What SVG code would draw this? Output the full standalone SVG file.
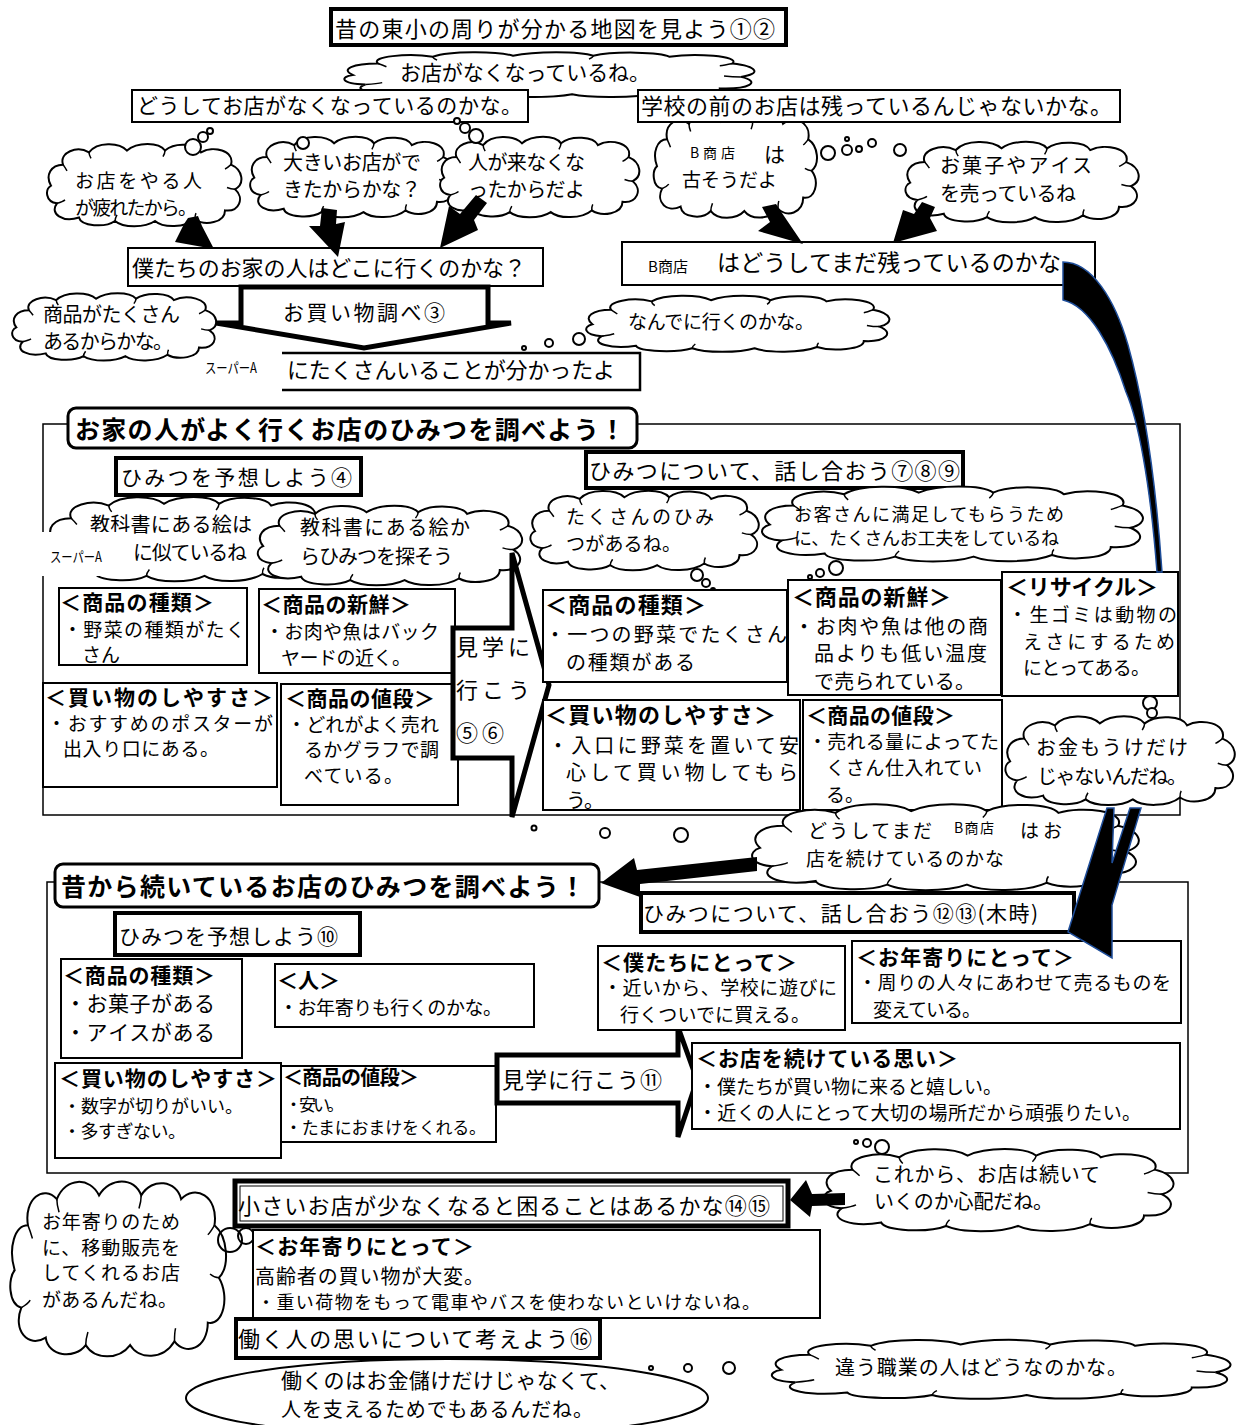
<svg xmlns="http://www.w3.org/2000/svg" xmlns:xlink="http://www.w3.org/1999/xlink" width="1241" height="1425" viewBox="0 0 1241 1425">
<style>
.t{font-family:"Noto Sans CJK JP","Noto Sans CJK SC",sans-serif;fill:#000}
.b{font-weight:bold}
.bx{fill:#fff;stroke:#000;stroke-width:2}
.bx4{fill:#fff;stroke:#000;stroke-width:4}
.fr{fill:none;stroke:#000;stroke-width:1.5}
.cp{fill:#fff;stroke:#000;stroke-width:2;vector-effect:non-scaling-stroke}
.ci{fill:none;stroke:#000;stroke-width:1.5;vector-effect:non-scaling-stroke}
.bub{fill:#fff;stroke:#000;stroke-width:2}
.ar{fill:#000}
.cv{fill:#000;stroke:#1f4e9a;stroke-width:1.5}
.blk{fill:#fff;stroke:#000;stroke-width:5;stroke-linejoin:miter}
</style>
<defs>
<symbol id="cl" viewBox="0 0 200 100" preserveAspectRatio="none">
<path class="cp" d="M6,52 C0,40 6,28 18,28 C14,14 32,6 44,14 C52,2 74,2 82,12 C92,2 114,2 120,12 C130,2 152,4 156,14 C168,6 190,12 186,28 C198,34 200,50 190,56 C200,66 194,82 180,80 C180,94 160,98 150,90 C140,100 118,100 110,92 C100,100 78,100 70,92 C60,100 36,98 34,88 C18,94 4,84 12,72 C0,70 0,56 6,52 Z"/>
<path class="ci" d="M18,28 C20,31 21,33 22,35 M44,14 C44,17 45,19 46,21 M120,12 C120,15 119,17 118,19 M186,28 C184,30 182,32 180,33 M190,56 C187,56 184,55 182,54 M150,90 C150,87 150,85 151,83 M70,92 C70,89 71,87 72,85 M12,72 C15,71 18,70 20,68"/>
</symbol>
</defs>
<rect width="1241" height="1425" fill="#fff"/>

<g id="sections">
<rect class="fr" x="43" y="424" width="1137" height="391"/>
<rect class="fr" x="47" y="882" width="1141" height="291"/>
</g>

<g id="top">
<g id="title1"><rect x="331" y="9" width="455" height="36" fill="#fff" stroke="#000" stroke-width="4"/><text class="t" x="335" y="37" font-size="22" textLength="440">昔の東小の周りが分かる地図を見よう①②</text></g>
<g id="cloud-nakunatte"><use xlink:href="#cl" x="340" y="50" width="422" height="48"/><text class="t" x="400" y="80" font-size="21" textLength="250">お店がなくなっているね。</text></g>
<g id="cloud-furusou"><use xlink:href="#cl" x="652" y="108" width="168" height="112"/><text class="t" x="690" y="158" font-size="14" textLength="45">B商店</text><text class="t" x="764" y="162" font-size="21">は</text><text class="t" x="682" y="187" font-size="19" textLength="95">古そうだよ</text>
<circle class="bub" cx="828" cy="153" r="7"/><circle class="bub" cx="847" cy="150" r="5"/><circle class="bub" cx="847" cy="139" r="2"/><circle class="bub" cx="859" cy="149" r="3"/><circle class="bub" cx="872" cy="143" r="4"/><circle class="bub" cx="900" cy="150" r="6"/></g>
<g id="box-doushite"><rect class="bx" x="132" y="90" width="396" height="32"/><text class="t" x="137" y="113" font-size="21" textLength="385">どうしてお店がなくなっているのかな。</text></g>
<g id="box-gakkou"><rect class="bx" x="638" y="90" width="482" height="32"/><text class="t" x="641" y="114" font-size="22" textLength="471">学校の前のお店は残っているんじゃないかな。</text></g>
<g id="cloud-tsukareta"><use xlink:href="#cl" x="45" y="140" width="200" height="88"/><text class="t" x="75" y="188" font-size="19" textLength="127">お店をやる人</text><text class="t" x="75" y="215" font-size="19" textLength="122">が疲れたから。</text>
<circle class="bub" cx="193" cy="147" r="8"/><circle class="bub" cx="203" cy="137" r="5"/><circle class="bub" cx="210" cy="131" r="3"/></g>
<g id="cloud-ookii"><use xlink:href="#cl" x="248" y="133" width="210" height="86"/><text class="t" x="283" y="170" font-size="20" textLength="138">大きいお店がで</text><text class="t" x="283" y="197" font-size="20" textLength="138">きたからかな？</text><circle class="bub" cx="303" cy="143" r="6"/></g>
<g id="cloud-hitoga"><use xlink:href="#cl" x="438" y="133" width="205" height="86"/><text class="t" x="468" y="170" font-size="20" textLength="117">人が来なくな</text><text class="t" x="468" y="197" font-size="20" textLength="117">ったからだよ</text>
<circle class="bub" cx="457" cy="121" r="3"/><circle class="bub" cx="465" cy="128" r="5"/><circle class="bub" cx="476" cy="136" r="7"/></g>
<g id="cloud-okashi"><use xlink:href="#cl" x="903" y="138" width="240" height="86"/><text class="t" x="940" y="173" font-size="20" textLength="152">お菓子やアイス</text><text class="t" x="940" y="201" font-size="20" textLength="136">を売っているね</text></g>
<g id="box-bokutachi"><rect class="bx" x="128" y="248" width="415" height="38"/><text class="t" x="132" y="276" font-size="22" textLength="394">僕たちのお家の人はどこに行くのかな？</text></g>
<g id="box-bshoten"><rect class="bx" x="622" y="242" width="473" height="43"/><text class="t" x="648" y="272" font-size="15" textLength="40">B商店</text><text class="t" x="717" y="271" font-size="23" textLength="344">はどうしてまだ残っているのかな</text></g>
<g id="cloud-shouhin"><use xlink:href="#cl" x="10" y="290" width="210" height="72"/><text class="t" x="43" y="322" font-size="20" textLength="137">商品がたくさん</text><text class="t" x="43" y="349" font-size="20" textLength="130">あるからかな。</text></g>
<g id="cloud-nande"><use xlink:href="#cl" x="583" y="293" width="312" height="60"/><text class="t" x="628" y="329" font-size="19" textLength="186">なんでに行くのかな。</text>
<circle class="bub" cx="524" cy="348" r="2"/><circle class="bub" cx="549" cy="343" r="4"/><circle class="bub" cx="579" cy="339" r="6"/></g>
<g id="box-takusan"><path d="M282,353 L640,353 L640,390 L282,390" fill="#fff" stroke="#000" stroke-width="2.5"/><text class="t" x="205" y="373" font-size="14" textLength="52" lengthAdjust="spacingAndGlyphs">スーパーA</text><text class="t" x="287" y="378" font-size="22" textLength="328">にたくさんいることが分かったよ</text></g>
<g id="arrow-kaimono"><path class="blk" d="M241,287 L488,287 L488,323 L511,323 L364,348 L216,323 L241,323 Z"/><text class="t" x="283" y="320" font-size="21" textLength="162">お買い物調べ③</text></g>
</g>

<g id="middle">
<g id="title2"><rect x="68" y="408" width="569" height="40" rx="8" fill="#fff" stroke="#000" stroke-width="3"/><text class="t b" x="75" y="439" font-size="25" textLength="550">お家の人がよく行くお店のひみつを調べよう！</text></g>
<g id="box-yosou4"><rect class="bx4" x="116" y="458" width="245" height="37"/><text class="t" x="121" y="485" font-size="21" textLength="231">ひみつを予想しよう④</text></g>
<g id="box-hanashi789"><rect class="bx4" x="586" y="452" width="377" height="36"/><text class="t" x="589" y="479" font-size="22" textLength="371">ひみつについて、話し合おう⑦⑧⑨</text></g>
<g id="cloud-kyoukasho1"><use xlink:href="#cl" x="45" y="493" width="290" height="90"/><text class="t" x="90" y="532" font-size="20" textLength="162">教科書にある絵は</text><text class="t" x="133" y="560" font-size="20" textLength="114">に似ているね</text>
<rect x="40" y="532" width="88" height="44" fill="#fff"/><text class="t" x="50" y="562" font-size="14" textLength="52" lengthAdjust="spacingAndGlyphs">スーパーA</text></g>
<g id="cloud-kyoukasho2"><use xlink:href="#cl" x="255" y="502" width="272" height="85"/><text class="t" x="300" y="535" font-size="20" textLength="170">教科書にある絵か</text><text class="t" x="300" y="564" font-size="20" textLength="153">らひみつを探そう</text></g>
<g id="cloud-takusanhimitsu"><use xlink:href="#cl" x="528" y="487" width="235" height="85"/><text class="t" x="566" y="524" font-size="19" textLength="148">たくさんのひみ</text><text class="t" x="566" y="551" font-size="19" textLength="115">つがあるね。</text>
<circle class="bub" cx="697" cy="575" r="6"/><circle class="bub" cx="706" cy="583" r="4"/><circle class="bub" cx="713" cy="590" r="2"/></g>
<g id="cloud-okyaku"><use xlink:href="#cl" x="758" y="483" width="392" height="80"/><text class="t" x="794" y="521" font-size="18" textLength="270">お客さんに満足してもらうため</text><text class="t" x="794" y="545" font-size="18" textLength="265">に、たくさんお工夫をしているね</text>
<circle class="bub" cx="810" cy="577" r="2"/><circle class="bub" cx="820" cy="573" r="4"/><circle class="bub" cx="836" cy="568" r="7"/></g>

<g id="l-shurui"><rect class="bx" x="59" y="588" width="188" height="77"/><text class="t b" x="60" y="610" font-size="21" textLength="154">＜商品の種類＞</text><text class="t" x="63" y="637" font-size="19" textLength="182">・野菜の種類がたく</text><text class="t" x="82" y="662" font-size="19" textLength="38">さん</text></g>
<g id="l-shinsen"><rect class="bx" x="259" y="589" width="196" height="84"/><text class="t b" x="261" y="612" font-size="21" textLength="150">＜商品の新鮮＞</text><text class="t" x="265" y="639" font-size="19" textLength="174">・お肉や魚はバック</text><text class="t" x="281" y="665" font-size="19" textLength="130">ヤードの近く。</text></g>
<g id="l-kaimono"><rect class="bx" x="43" y="683" width="234" height="104"/><text class="t b" x="45" y="705" font-size="21" textLength="228">＜買い物のしやすさ＞</text><text class="t" x="47" y="731" font-size="19" textLength="226">・おすすめのポスターが</text><text class="t" x="63" y="756" font-size="19" textLength="156">出入り口にある。</text></g>
<g id="l-nedan"><rect class="bx" x="281" y="684" width="177" height="121"/><text class="t b" x="285" y="706" font-size="21" textLength="150">＜商品の値段＞</text><text class="t" x="287" y="732" font-size="19" textLength="152">・どれがよく売れ</text><text class="t" x="304" y="757" font-size="19" textLength="135">るかグラフで調</text><text class="t" x="304" y="783" font-size="19" textLength="99">べている。</text></g>
<g id="arrow-kengaku56"><path class="blk" d="M453,628 L512,628 L512,553 L549,685 L512,817 L512,758 L453,758 Z"/><text class="t" x="456" y="655" font-size="22" textLength="74">見学に</text><text class="t" x="456" y="698" font-size="22" textLength="74">行こう</text><text class="t" x="456" y="741" font-size="22" textLength="48">⑤⑥</text></g>

<g id="r-shurui"><rect class="bx" x="543" y="590" width="244" height="92"/><text class="t b" x="545" y="613" font-size="22" textLength="161">＜商品の種類＞</text><text class="t" x="545" y="642" font-size="20" textLength="242">・一つの野菜でたくさん</text><text class="t" x="566" y="670" font-size="20" textLength="129">の種類がある</text></g>
<g id="r-shinsen"><rect class="bx" x="788" y="580" width="213" height="115"/><text class="t b" x="792" y="605" font-size="22" textLength="159">＜商品の新鮮＞</text><text class="t" x="794" y="634" font-size="20" textLength="194">・お肉や魚は他の商</text><text class="t" x="814" y="661" font-size="20" textLength="173">品よりも低い温度</text><text class="t" x="814" y="689" font-size="20" textLength="161">で売られている。</text></g>
<g id="r-recycle"><rect class="bx" x="1002" y="572" width="176" height="124"/><text class="t b" x="1006" y="595" font-size="22" textLength="152">＜リサイクル＞</text><text class="t" x="1008" y="622" font-size="19" textLength="169">・生ゴミは動物の</text><text class="t" x="1023" y="649" font-size="19" textLength="152">えさにするため</text><text class="t" x="1023" y="675" font-size="19" textLength="127">にとってある。</text></g>
<g id="r-kaimono"><rect class="bx" x="543" y="700" width="257" height="110"/><text class="t b" x="545" y="723" font-size="22" textLength="231">＜買い物のしやすさ＞</text><text class="t" x="548" y="753" font-size="20" textLength="251">・入口に野菜を置いて安</text><text class="t" x="566" y="780" font-size="20" textLength="232">心して買い物してもら</text><text class="t" x="566" y="808" font-size="20" textLength="38">う。</text></g>
<g id="r-nedan"><rect class="bx" x="803" y="700" width="199" height="110"/><text class="t b" x="806" y="723" font-size="21" textLength="149">＜商品の値段＞</text><text class="t" x="808" y="749" font-size="19" textLength="191">・売れる量によってた</text><text class="t" x="826" y="775" font-size="19" textLength="156">くさん仕入れてい</text><text class="t" x="826" y="802" font-size="19" textLength="38">る。</text></g>
<g id="cloud-okane"><use xlink:href="#cl" x="1003" y="712" width="236" height="95"/><text class="t" x="1036" y="755" font-size="20" textLength="152">お金もうけだけ</text><text class="t" x="1037" y="784" font-size="20" textLength="150">じゃないんだね。</text>
<circle class="bub" cx="1150" cy="703" r="7"/><circle class="bub" cx="1152" cy="713" r="5"/></g>
<g id="dots1"><circle class="bub" cx="534" cy="828" r="2.5"/><circle class="bub" cx="605" cy="833" r="5"/><circle class="bub" cx="681" cy="835" r="7"/></g>
<g id="cloud-doushitemada"><use xlink:href="#cl" x="748" y="800" width="398" height="92"/><text class="t" x="808" y="838" font-size="19" textLength="124">どうしてまだ</text><text class="t" x="954" y="833" font-size="14" textLength="40">B商店</text><text class="t" x="1020" y="838" font-size="19" textLength="42">はお</text><text class="t" x="806" y="866" font-size="19" textLength="198">店を続けているのかな</text></g>
</g>

<g id="bottom">
<g id="title3"><rect x="55" y="864" width="544" height="43" rx="8" fill="#fff" stroke="#000" stroke-width="3"/><text class="t b" x="61" y="896" font-size="25" textLength="524">昔から続いているお店のひみつを調べよう！</text></g>
<g id="box-yosou10"><rect class="bx4" x="115" y="913" width="245" height="42"/><text class="t" x="119" y="944" font-size="21" textLength="219">ひみつを予想しよう⑩</text></g>
<g id="box-hanashi1213"><rect class="bx4" x="641" y="893" width="433" height="39"/><text class="t" x="643" y="921" font-size="21" textLength="395">ひみつについて、話し合おう⑫⑬(木時)</text></g>
<g id="b-shurui"><rect class="bx" x="61" y="959" width="181" height="99"/><text class="t b" x="63" y="983" font-size="21" textLength="152">＜商品の種類＞</text><text class="t" x="65" y="1011" font-size="21" textLength="150">・お菓子がある</text><text class="t" x="65" y="1040" font-size="21" textLength="150">・アイスがある</text></g>
<g id="b-hito"><rect class="bx" x="275" y="964" width="259" height="63"/><text class="t b" x="277" y="988" font-size="21" textLength="63">＜人＞</text><text class="t" x="279" y="1015" font-size="19" textLength="223">・お年寄りも行くのかな。</text></g>
<g id="b-kaimono"><rect class="bx" x="55" y="1063" width="226" height="95"/><text class="t b" x="59" y="1086" font-size="21" textLength="218">＜買い物のしやすさ＞</text><text class="t" x="63" y="1113" font-size="18" textLength="180">・数字が切りがいい。</text><text class="t" x="63" y="1138" font-size="18" textLength="123">・多すぎない。</text></g>
<g id="b-nedan"><rect class="bx" x="281" y="1066" width="215" height="76"/><text class="t b" x="283" y="1085" font-size="20" textLength="136">＜商品の値段＞</text><text class="t" x="285" y="1111" font-size="17" textLength="59">・安い。</text><text class="t" x="285" y="1134" font-size="17" textLength="201">・たまにおまけをくれる。</text></g>
<g id="arrow-kengaku11"><path class="blk" d="M497,1055 L678,1055 L678,1027 L697,1080 L678,1137 L678,1103 L497,1103 Z"/><text class="t" x="502" y="1088" font-size="22" textLength="160">見学に行こう⑪</text></g>
<g id="b-bokutachi"><rect class="bx" x="598" y="946" width="247" height="84"/><text class="t b" x="601" y="970" font-size="21" textLength="196">＜僕たちにとって＞</text><text class="t" x="603" y="995" font-size="19" textLength="234">・近いから、学校に遊びに</text><text class="t" x="620" y="1022" font-size="19" textLength="190">行くついでに買える。</text></g>
<g id="b-otoshiyori"><rect class="bx" x="852" y="941" width="329" height="82"/><text class="t b" x="856" y="965" font-size="21" textLength="218">＜お年寄りにとって＞</text><text class="t" x="858" y="990" font-size="19" textLength="313">・周りの人々にあわせて売るものを</text><text class="t" x="873" y="1017" font-size="19" textLength="108">変えている。</text></g>
<g id="b-omoi"><rect class="bx" x="692" y="1043" width="488" height="86"/><text class="t b" x="696" y="1066" font-size="21" textLength="262">＜お店を続けている思い＞</text><text class="t" x="698" y="1094" font-size="19" textLength="304">・僕たちが買い物に来ると嬉しい。</text><text class="t" x="698" y="1120" font-size="19" textLength="443">・近くの人にとって大切の場所だから頑張りたい。</text></g>
<g id="dots2"><circle class="bub" cx="856" cy="1142" r="2"/><circle class="bub" cx="867" cy="1143" r="4"/><circle class="bub" cx="882" cy="1147" r="7"/></g>
<g id="cloud-korekara"><use xlink:href="#cl" x="820" y="1145" width="360" height="88"/><text class="t" x="873" y="1182" font-size="20" textLength="227">これから、お店は続いて</text><text class="t" x="874" y="1209" font-size="20" textLength="179">いくのか心配だね。</text></g>
<g id="box-chiisai"><rect x="235" y="1181" width="553" height="45" fill="#fff" stroke="#000" stroke-width="5"/><rect x="240" y="1186" width="543" height="35" fill="none" stroke="#000" stroke-width="1"/><text class="t" x="238" y="1214" font-size="22" textLength="532">小さいお店が少なくなると困ることはあるかな⑭⑮</text></g>
<g id="cloud-idou"><use xlink:href="#cl" x="8" y="1173" width="222" height="187"/><text class="t" x="42" y="1229" font-size="19" textLength="138">お年寄りのため</text><text class="t" x="42" y="1255" font-size="19" textLength="138">に、移動販売を</text><text class="t" x="42" y="1280" font-size="19" textLength="138">してくれるお店</text><text class="t" x="42" y="1307" font-size="19" textLength="135">があるんだね。</text>
<circle cx="230" cy="1240" r="12" fill="none" stroke="#000" stroke-width="2"/><circle cx="246" cy="1236" r="8" fill="none" stroke="#000" stroke-width="2"/></g>
<g id="b-koureisha"><rect class="bx" x="253" y="1230" width="567" height="88"/><text class="t b" x="255" y="1254" font-size="21" textLength="219">＜お年寄りにとって＞</text><text class="t" x="255" y="1284" font-size="20" textLength="229">高齢者の買い物が大変。</text><text class="t" x="257" y="1309" font-size="18" textLength="503">・重い荷物をもって電車やバスを使わないといけないね。</text></g>
<g id="box-hataraku"><rect x="236" y="1319" width="364" height="39" fill="#fff" stroke="#000" stroke-width="4"/><text class="t" x="238" y="1347" font-size="22" textLength="354">働く人の思いについて考えよう⑯</text></g>
<g id="ellipse-hataraku"><ellipse cx="447" cy="1398" rx="261" ry="39" fill="#fff" stroke="#000" stroke-width="2"/><text class="t" x="281" y="1388" font-size="21" textLength="339">働くのはお金儲けだけじゃなくて、</text><text class="t" x="281" y="1417" font-size="20" textLength="312">人を支えるためでもあるんだね。</text>
<circle class="bub" cx="651" cy="1368" r="2"/><circle class="bub" cx="688" cy="1368" r="4"/><circle class="bub" cx="729" cy="1368" r="6"/></g>
<g id="cloud-chigau"><use xlink:href="#cl" x="767" y="1337" width="472" height="63"/><text class="t" x="835" y="1375" font-size="20" textLength="292">違う職業の人はどうなのかな。</text></g>
</g>

<g id="connectors">
<path class="ar" d="M175,242 L184,224 L188,218 L198,216 L202,226 L214,249 Z"/>
<path class="ar" d="M322,208 L337,210 L336,224 L345,222 L338,257 L309,226 L320,226 Z"/>
<path class="ar" d="M476,195 L487,203 L474,220 L478,230 L440,248 L449,206 L460,214 Z"/>
<path class="ar" d="M762,207 L776,204 L784,216 L803,244 L758,231 L770,222 Z"/>
<path class="ar" d="M922,202 L935,207 L930,218 L937,231 L893,243 L903,210 L914,214 Z"/>
<path class="cv" d="M1063,262 C1092,262 1115,300 1128,345 C1142,395 1155,470 1162,572 L1157,572 C1150,480 1138,420 1126,392 C1112,348 1090,306 1063,300 Z"/>
<path class="cv" d="M1107,808 L1077,903 L1068,932 L1112,958 L1112,905 L1141,808 L1130,808 L1112,863 L1114,808 Z"/>
<path class="ar" d="M757,857 L637,870 L634,858 L601,883 L640,897 L640,884 L757,871 Z"/>
<path class="ar" d="M845,1193 L812,1194 L806,1180 L790,1200 L810,1217 L812,1206 L845,1205 Z"/>
</g>
</svg>
